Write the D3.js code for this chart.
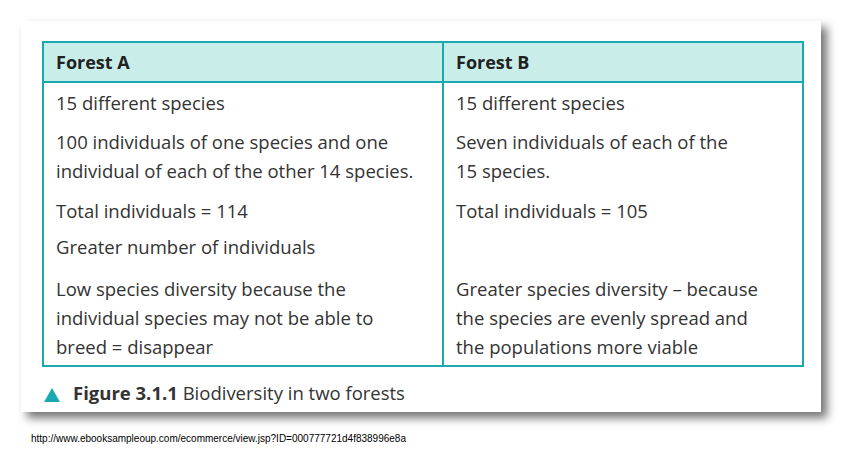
<!DOCTYPE html>
<html><head><meta charset="utf-8">
<script src="https://cdn.jsdelivr.net/npm/d3@7"></script>
<style>body{margin:0;background:#fff}</style>
</head><body>
<svg id="chart" width="863" height="454"></svg>
<script>
const headers = ["Forest A", "Forest B"];
const rowsA = [["15 different species"], ["100 individuals of one species and one", "individual of each of the other 14 species."], ["Total individuals = 114"], ["Greater number of individuals"], ["Low species diversity because the", "individual species may not be able to", "breed = disappear"]];
const rowsB = [["15 different species"], ["Seven individuals of each of the", "15 species."], ["Total individuals = 105"], [""], ["Greater species diversity \u2013 because", "the species are evenly spread and", "the populations more viable"]];
const rowY = [103, 142, 211, 247, 289];
const caption = "Biodiversity in two forests";
const url = "http://www.ebooksampleoup.com/ecommerce/view.jsp?ID=000777721d4f838996e8a";

const svg = d3.select("#chart");
const font = "'Open Sans', 'DejaVu Sans', sans-serif";
const teal = "#1aa9b0";

const defs = svg.append("defs");
const f = defs.append("filter").attr("id", "sh").attr("x", "-5%").attr("y", "-5%").attr("width", "115%").attr("height", "120%");
f.append("feDropShadow").attr("dx", 6).attr("dy", 6).attr("stdDeviation", 5).attr("flood-color", "#000").attr("flood-opacity", 0.55);

svg.append("rect").attr("x", 21).attr("y", 21).attr("width", 800).attr("height", 391).attr("fill", "#fff").attr("filter", "url(#sh)");

const x = d3.scaleOrdinal().domain([0, 1]).range([43, 443]);
const tLeft = 43, tMid = 443, tRight = 803, tTop = 42, tHead = 82, tBottom = 366;

svg.append("rect").attr("x", tLeft).attr("y", tTop).attr("width", tRight - tLeft).attr("height", tHead - tTop).attr("fill", "#c9eee9");
svg.append("rect").attr("x", tLeft).attr("y", tTop).attr("width", tRight - tLeft).attr("height", tBottom - tTop)
  .attr("fill", "none").attr("stroke", teal).attr("stroke-width", 2);
svg.append("line").attr("x1", tLeft).attr("x2", tRight).attr("y1", tHead).attr("y2", tHead).attr("stroke", teal).attr("stroke-width", 2);
svg.append("line").attr("x1", tMid).attr("x2", tMid).attr("y1", tTop).attr("y2", tBottom).attr("stroke", teal).attr("stroke-width", 2);

svg.selectAll("text.h").data(headers).join("text").attr("class", "h")
  .attr("x", (d, i) => x(i) + 13).attr("y", 69).attr("font-family", font).attr("font-weight", "bold")
  .attr("font-size", 18).attr("fill", "#222").text(d => d);

[rowsA, rowsB].forEach((rows, c) => {
  rows.forEach((lines, r) => {
    svg.append("g").selectAll("text").data(lines).join("text")
      .attr("x", x(c) + 13).attr("y", (d, i) => rowY[r] + 7 + i * 29)
      .attr("font-family", font).attr("font-size", 18.5).attr("fill", "#333").text(d => d);
  });
});

svg.append("path").attr("d", "M44,402 L52,388 L60,402 Z").attr("fill", teal);
const cap = svg.append("text").attr("x", 73).attr("y", 400).attr("font-family", font).attr("font-size", 18.5).attr("fill", "#333");
cap.append("tspan").attr("font-weight", "bold").text("Figure 3.1.1 ");
cap.append("tspan").text(caption);

svg.append("text").attr("x", 31).attr("y", 442).attr("font-family", "'Liberation Sans', Arial, sans-serif")
  .attr("font-size", 10).attr("fill", "#000").text(url);
</script>
</body></html>
